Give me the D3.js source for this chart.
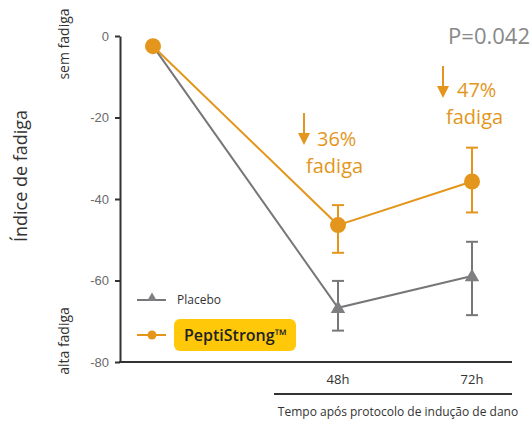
<!DOCTYPE html>
<html>
<head>
<meta charset="utf-8">
<script src="https://cdn.jsdelivr.net/npm/d3@7"></script>
<style>
  body { margin: 0; background: #fff; }
  svg { font-family: "Open Sans", sans-serif; }
</style>
</head>
<body>
<div id="chart"></div>
<script>
// data
var timePoints = ["0h", "48h", "72h"];
var tickLabels = ["", "48h", "72h"];
var yTicks = [0, -20, -40, -60, -80];

var placeboMean = [-2.5, -66.7, -58.9];
var placeboUp   = [-2.5, -60.1, -50.5];
var placeboLow  = [-2.5, -72.3, -68.5];

var peptiMean = [-2.5, -46.4, -35.7];
var peptiUp   = [-2.5, -41.5, -27.4];
var peptiLow  = [-2.5, -53.2, -43.3];

var ORANGE = "#e3961b", GRAY = "#77777a";

var W = 531, H = 423;
var svg = d3.select('#chart').append('svg')
    .attr('width', W).attr('height', H);

var y = d3.scaleLinear().domain([-80, 0]).range([362, 36]);
// uneven spacing of time points
var x = d3.scaleOrdinal().domain(timePoints).range([153, 338, 472]);

// y axis
var yAxis = d3.axisLeft(y).tickValues(yTicks).tickSize(5).tickPadding(6).tickSizeOuter(0)
    .tickFormat(function(d){ return String(d); });
var gy = svg.append('g').attr('transform', 'translate(120,0)').call(yAxis);
gy.select('.domain').attr('stroke', '#333').attr('stroke-width', 2);
gy.selectAll('.tick line').attr('stroke', '#333').attr('stroke-width', 2);
gy.selectAll('.tick text').attr('fill', '#6a6a6a').attr('font-size', 13);

// bottom line of plot
svg.append('line').attr('x1', 119).attr('x2', 512)
    .attr('y1', y(-80)).attr('y2', y(-80))
    .attr('stroke', '#333').attr('stroke-width', 2);

// x tick labels + lower line
svg.selectAll('.xlab').data(timePoints.slice(1))
    .enter().append('text')
    .attr('x', function(d){ return x(d); })
    .attr('y', 384)
    .attr('text-anchor', 'middle')
    .attr('font-size', 13).attr('fill', '#333')
    .text(function(d, i){ return tickLabels[i+1]; });
svg.append('line').attr('x1', 274).attr('x2', 512)
    .attr('y1', 394).attr('y2', 394)
    .attr('stroke', '#333').attr('stroke-width', 2);
svg.append('text').attr('x', 398).attr('y', 416)
    .attr('text-anchor', 'middle').attr('font-size', 12).attr('fill', '#333')
    .text('Tempo após protocolo de indução de dano');

// y titles
svg.append('text').attr('transform', 'translate(27,176) rotate(-90)')
    .attr('text-anchor', 'middle').attr('font-size', 18).attr('fill', '#333')
    .text('Índice de fadiga');
svg.append('text').attr('transform', 'translate(69,44) rotate(-90)')
    .attr('text-anchor', 'middle').attr('font-size', 14).attr('fill', '#333')
    .text('sem fadiga');
svg.append('text').attr('transform', 'translate(69,341) rotate(-90)')
    .attr('text-anchor', 'middle').attr('font-size', 14).attr('fill', '#333')
    .text('alta fadiga');

var line = d3.line()
    .x(function(d){ return x(d.t); })
    .y(function(d){ return y(d.v); });

function series(mean, up, low){
    return timePoints.map(function(t, i){ return {t: t, v: mean[i], up: up[i], low: low[i]}; });
}
var placebo = series(placeboMean, placeboUp, placeboLow);
var pepti = series(peptiMean, peptiUp, peptiLow);

function errorBars(data, color){
    var g = svg.append('g');
    var d2 = data.filter(function(d){ return d.up != d.low; });
    g.selectAll('.eb').data(d2).enter().append('line')
        .attr('x1', function(d){ return x(d.t); }).attr('x2', function(d){ return x(d.t); })
        .attr('y1', function(d){ return y(d.up); }).attr('y2', function(d){ return y(d.low); })
        .attr('stroke', color).attr('stroke-width', 2);
    g.selectAll('.cu').data(d2).enter().append('line')
        .attr('x1', function(d){ return x(d.t) - 6; }).attr('x2', function(d){ return x(d.t) + 6; })
        .attr('y1', function(d){ return y(d.up); }).attr('y2', function(d){ return y(d.up); })
        .attr('stroke', color).attr('stroke-width', 2);
    g.selectAll('.cl').data(d2).enter().append('line')
        .attr('x1', function(d){ return x(d.t) - 6; }).attr('x2', function(d){ return x(d.t) + 6; })
        .attr('y1', function(d){ return y(d.low); }).attr('y2', function(d){ return y(d.low); })
        .attr('stroke', color).attr('stroke-width', 2);
}

errorBars(placebo, GRAY);
errorBars(pepti, ORANGE);

svg.append('path').datum(placebo).attr('d', line)
    .attr('fill', 'none').attr('stroke', GRAY).attr('stroke-width', 2);
svg.append('path').datum(pepti).attr('d', line)
    .attr('fill', 'none').attr('stroke', ORANGE).attr('stroke-width', 2);

var tri = d3.symbol().type(d3.symbolTriangle).size(90);
svg.selectAll('.tri').data(placebo.slice(1)).enter().append('path')
    .attr('d', tri)
    .attr('transform', function(d){ return 'translate(' + x(d.t) + ',' + (y(d.v) + 1) + ')'; })
    .attr('fill', '#7f7f82');
svg.selectAll('.dot').data(pepti).enter().append('circle')
    .attr('cx', function(d){ return x(d.t); })
    .attr('cy', function(d){ return y(d.v); })
    .attr('r', 8).attr('fill', ORANGE);

// legend
svg.append('line').attr('x1', 137).attr('x2', 166).attr('y1', 300).attr('y2', 300)
    .attr('stroke', GRAY).attr('stroke-width', 2);
svg.append('path').attr('d', d3.symbol().type(d3.symbolTriangle).size(40))
    .attr('transform', 'translate(152,298)').attr('fill', '#7f7f82');
svg.append('text').attr('x', 177).attr('y', 304).attr('font-size', 12).attr('fill', '#333')
    .text('Placebo');
svg.append('line').attr('x1', 137).attr('x2', 166).attr('y1', 335).attr('y2', 335)
    .attr('stroke', ORANGE).attr('stroke-width', 2);
svg.append('circle').attr('cx', 152).attr('cy', 335).attr('r', 4.5).attr('fill', ORANGE);
svg.append('rect').attr('x', 174).attr('y', 319).attr('width', 122).attr('height', 32)
    .attr('rx', 6).attr('fill', '#ffc90a');
svg.append('text').attr('x', 184).attr('y', 341).attr('font-size', 16)
    .attr('font-weight', 600).attr('fill', '#222')
    .text('PeptiStrong™');

// annotations
svg.append('text').attr('x', 530).attr('y', 44).attr('text-anchor', 'end')
    .attr('font-size', 22).attr('fill', '#888').text('P=0.042');

function drop(ax, ay, pct, tx, ty){
    svg.append('line').attr('x1', ax).attr('x2', ax).attr('y1', ay).attr('y2', ay + 24)
        .attr('stroke', ORANGE).attr('stroke-width', 2);
    svg.append('path').attr('d', 'M' + (ax - 6) + ',' + (ay + 20) + 'L' + (ax + 6) + ',' + (ay + 20) + 'L' + ax + ',' + (ay + 32) + 'Z')
        .attr('fill', ORANGE);
    svg.append('text').attr('x', tx).attr('y', ty).attr('font-size', 20).attr('fill', ORANGE).text(pct);
    svg.append('text').attr('x', tx - 11).attr('y', ty + 27).attr('font-size', 20).attr('fill', ORANGE).text('fadiga');
}
drop(304, 113, '36%', 317, 146);
drop(443, 66, '47%', 457, 97);
</script>
</body>
</html>
